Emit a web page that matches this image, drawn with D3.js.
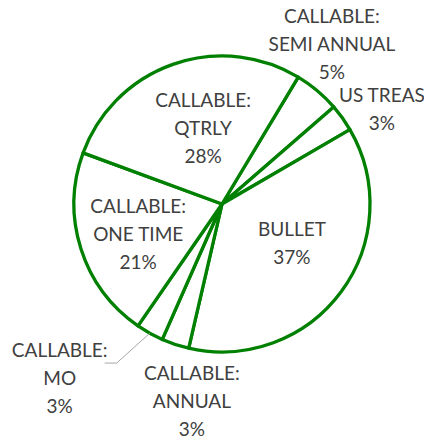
<!DOCTYPE html>
<meta charset='utf-8'>
<style>
  body { margin: 0; background: #fff; }
  text { font-family: Lato, 'Open Sans', sans-serif; font-size: 19px; fill: #404040; }
  .slice { fill: #fff; stroke: #008000; stroke-width: 3.3; stroke-linejoin: round; }
  .leader { fill: none; stroke: #a6a6a6; stroke-width: 1; }
</style>
<body>
<script src='https://d3js.org/d3.v7.min.js'></script>
<script>
  // slices in clockwise order
  const categories = ['CALLABLE: SEMI ANNUAL', 'US TREAS', 'BULLET', 'CALLABLE: ANNUAL',
                      'CALLABLE: MO', 'CALLABLE: ONE TIME', 'CALLABLE: QTRLY']
  const values = [5, 3, 37, 3, 3, 21, 28]
  const labelLines = [
    ['CALLABLE:', 'SEMI ANNUAL', '5%'],
    ['US TREAS', '3%'],
    ['BULLET', '37%'],
    ['CALLABLE:', 'ANNUAL', '3%'],
    ['CALLABLE:', 'MO', '3%'],
    ['CALLABLE:', 'ONE TIME', '21%'],
    ['CALLABLE:', 'QTRLY', '28%']
  ]

  const width = 424, height = 440
  const cx = 222, cy = 204, radius = 148
  const startDeg = 31
  const lineH = 28

  // label placement: angle shift (deg) from slice middle and distance from centre
  const labelLayout = [
    {da: -5.5, r: 194},
    {da: 4.9, r: 186},
    {da: -7.4, r: 80},
    {da: -9.7, r: 199},
    {da: 13.8, r: 238},
    {da: -2.1, r: 89},
    {da: 5.4, r: 78}
  ]

  const data = categories.map((c, i) => ({name: c, value: values[i], lines: labelLines[i], layout: labelLayout[i]}))

  const rad = Math.PI / 180
  const pie = d3.pie().value(d => d.value).sort(null)
    .startAngle(startDeg * rad).endAngle((startDeg + 360) * rad)
  const arc = d3.arc().innerRadius(0).outerRadius(radius)

  const svg = d3.select('body').append('svg')
    .attr('width', width).attr('height', height)
  const g = svg.append('g').attr('transform', `translate(${cx}, ${cy})`)

  const arcs = pie(data)

  g.selectAll('path.slice')
    .data(arcs)
    .enter().append('path')
    .attr('class', 'slice')
    .attr('d', arc)

  const polar = (a, r) => [r * Math.sin(a), -r * Math.cos(a)]

  const labels = g.selectAll('g.label')
    .data(arcs)
    .enter().append('g')
    .attr('class', 'label')
    .attr('transform', d => {
      const mid = (d.startAngle + d.endAngle) / 2 + d.data.layout.da * rad
      const p = polar(mid, d.data.layout.r)
      return `translate(${p[0]}, ${p[1]})`
    })

  labels.selectAll('text')
    .data(d => d.data.lines.map((t, i) => ({t, i, n: d.data.lines.length})))
    .enter().append('text')
    .attr('text-anchor', 'middle')
    .attr('y', d => (d.i - (d.n - 1) / 2) * lineH)
    .attr('dy', '0.36em')
    .text(d => d.t)

  // leader line for the MO slice
  const mo = arcs[4]
  const moMid = (mo.startAngle + mo.endAngle) / 2
  const start = polar(moMid, radius)
  const lp = polar(moMid + mo.data.layout.da * rad, mo.data.layout.r)
  const end = [lp[0] + 45, lp[1] - 15]
  g.append('path')
    .attr('class', 'leader')
    .attr('d', d3.line()([start, [end[0] + 12, end[1]], end]))
</script>
</body>
